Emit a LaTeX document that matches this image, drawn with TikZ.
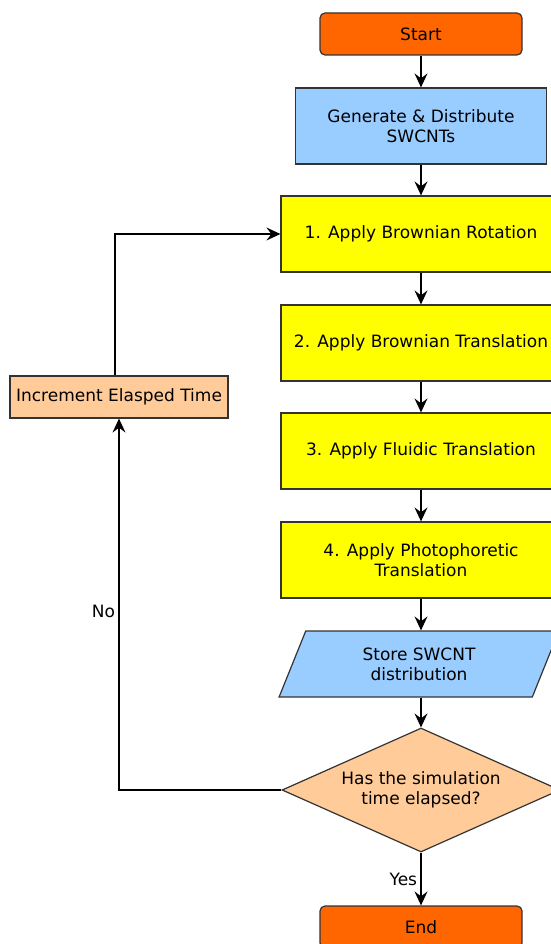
\documentclass[tikz,border=0pt]{standalone}
\usepackage{fontspec}
\setmainfont{DejaVu Sans}
\usepackage{tikz}
\usetikzlibrary{arrows.meta,shapes.geometric}

\definecolor{termorange}{HTML}{FF6600}
\definecolor{ioblue}{HTML}{99CCFF}
\definecolor{stepyellow}{HTML}{FFFF00}
\definecolor{peach}{HTML}{FFCC99}
\definecolor{framegray}{HTML}{333333}

\begin{document}
\begin{tikzpicture}[x=1pt,y=-1pt,
		font=\fontsize{17}{20}\selectfont,
		box/.style={draw=framegray,line width=1.2pt,align=center,inner sep=0pt},
		terminal/.style={box,rounded corners=5pt,fill=termorange,minimum width=202pt,minimum height=42pt},
		stepbox/.style={box,fill=stepyellow,minimum width=280pt,minimum height=76pt},
		decision/.style={box,diamond,aspect=2.2,fill=peach,minimum width=278pt,minimum height=124pt},
		iobox/.style={box,trapezium,trapezium left angle=68,trapezium right angle=112,fill=ioblue,minimum width=236pt,minimum height=66pt},
		flow/.style={->,line width=1.2pt,>={Stealth[length=14pt,width=13pt,inset=5pt]}}]
		\useasboundingbox (0,0) rectangle (550,944);
		%
		\node[terminal] (start) at (421,34) {Start};
		\node[box,fill=ioblue,minimum width=251pt,minimum height=76pt] (gen) at (421,126) {Generate \& Distribute\\SWCNTs};
		\node[stepbox] (rot) at (421,234) {1. Apply Brownian Rotation};
		\node[stepbox] (trans) at (421,343) {2. Apply Brownian Translation};
		\node[stepbox] (fluid) at (421,451) {3. Apply Fluidic Translation};
		\node[stepbox] (photo) at (421,560) {4. Apply Photophoretic\\Translation};
		\node[iobox] (store) at (419,664) {Store SWCNT\\distribution};
		\node[decision] (elapsed) at (421,790) {Has the simulation\\time elapsed?};
		\node[terminal] (end) at (421,927) {End};
		\node[box,fill=peach,minimum width=218pt,minimum height=42pt] (incr) at (119,397) {Increment Elasped Time};
		%
		\path[flow]
		(start) edge (gen)
		(gen) edge (rot)
		(rot) edge (trans)
		(trans) edge (fluid)
		(fluid) edge (photo)
		(photo.south) edge (photo.south |- store.north)
		(store.south -| elapsed.north) edge (elapsed)
		(elapsed) edge node[left]{Yes} (end);
		\draw[flow] (elapsed.west) -| node[pos=0.74,left]{No} (incr.south);
		\draw[flow] ([xshift=-4pt]incr.north) |- (rot.west);
	\end{tikzpicture}
\end{document}
